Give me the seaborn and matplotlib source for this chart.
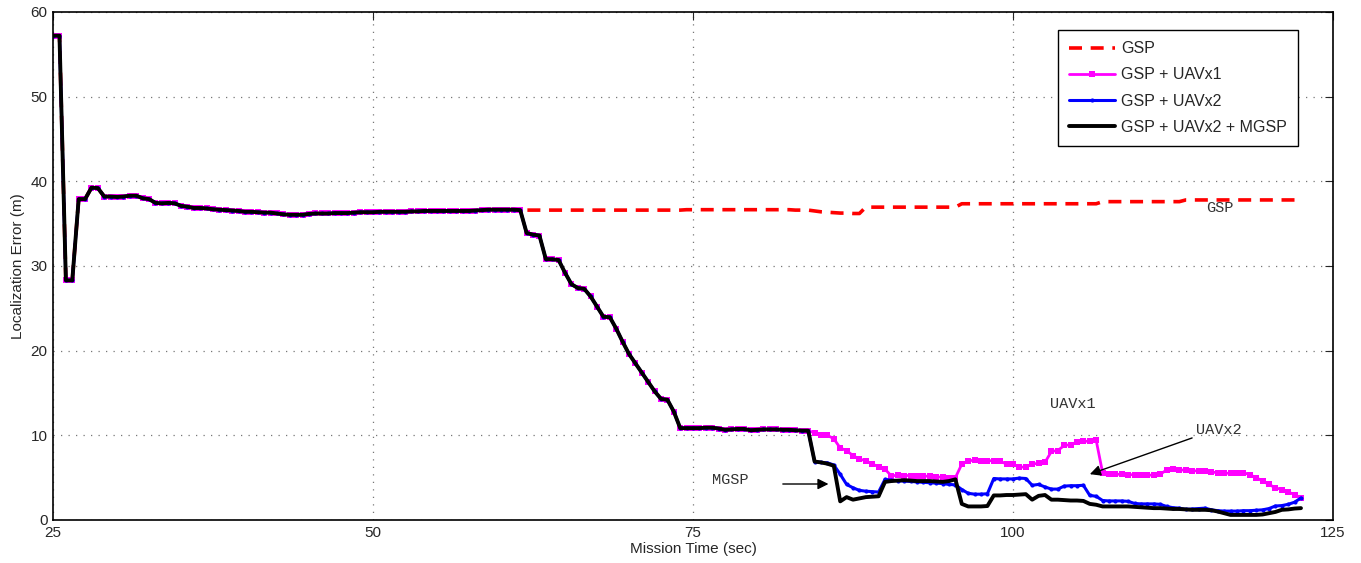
"""
Localization error vs mission time: GSP, GSP + UAVs and GSP + UAVs + MGSP
"""

import numpy as np
import pandas as pd
import matplotlib
matplotlib.use('Agg')
import matplotlib.pyplot as plt
import seaborn as sns

sns.set_style('white')
plt.rcParams['font.family'] = ['Liberation Sans Narrow', 'Liberation Sans', 'DejaVu Sans']

# ============================================================
# DATA (sampled every 0.5 s from 25.0 s to 122.5 s)
# ============================================================
t_start, t_end, t_step = 25.0, 122.5, 0.5

# 25.0 .. 61.5 s, shared by every configuration
common = [
    57.2, 57.2, 28.3, 28.3, 37.9, 37.9, 39.25, 39.2, 38.2, 38.2,
    38.15, 38.2, 38.3, 38.3, 38.0, 37.9, 37.45, 37.4, 37.45, 37.4,
    37.1, 37.0, 36.85, 36.85, 36.8, 36.7, 36.65, 36.6, 36.55, 36.5,
    36.4, 36.4, 36.35, 36.3, 36.3, 36.2, 36.1, 36.05, 36.05, 36.05,
    36.15, 36.2, 36.2, 36.2, 36.25, 36.25, 36.25, 36.3, 36.35, 36.35,
    36.35, 36.4, 36.4, 36.4, 36.4, 36.4, 36.45, 36.45, 36.5, 36.5,
    36.5, 36.5, 36.5, 36.5, 36.5, 36.5, 36.55, 36.6, 36.65, 36.65,
    36.65, 36.65, 36.65, 36.6,
]

# 62.0 .. 122.5 s, ground sensors only
gsp_tail = [
    36.6, 36.6, 36.6, 36.6, 36.6, 36.6, 36.6, 36.6, 36.6, 36.6,
    36.6, 36.6, 36.6, 36.6, 36.6, 36.6, 36.6, 36.6, 36.6, 36.6,
    36.6, 36.6, 36.6, 36.6, 36.6, 36.65, 36.65, 36.65, 36.65, 36.65,
    36.65, 36.65, 36.65, 36.65, 36.65, 36.65, 36.65, 36.65, 36.65, 36.65,
    36.65, 36.65, 36.6, 36.6, 36.6,
    36.5, 36.4, 36.35, 36.3, 36.25, 36.25, 36.2, 36.2,
    36.95, 36.95, 36.95, 36.95, 36.95, 36.95, 36.95, 36.95, 36.95, 36.95,
    36.95, 36.95, 36.95, 36.95, 36.95,
    37.35, 37.35, 37.35, 37.35, 37.35, 37.35, 37.35, 37.35, 37.35, 37.35,
    37.35, 37.35, 37.35, 37.35, 37.35, 37.35, 37.35, 37.35, 37.35, 37.35,
    37.35, 37.35,
    37.6, 37.6, 37.6, 37.6, 37.6, 37.6, 37.6, 37.6, 37.6, 37.6,
    37.6, 37.6, 37.6,
    37.8, 37.8, 37.8, 37.8, 37.8, 37.8, 37.8, 37.8, 37.8, 37.8,
    37.8, 37.8, 37.8, 37.8, 37.8, 37.8, 37.8, 37.8, 37.8,
]

# 62.0 .. 84.0 s, shared by the UAV configurations
uav_drop = [
    33.9, 33.7, 33.6, 30.8, 30.8, 30.7, 29.2, 27.85, 27.4, 27.3,
    26.4, 25.2, 24.0, 23.95, 22.6, 21.05, 19.6, 18.5, 17.4, 16.3,
    15.2, 14.3, 14.2, 12.8, 10.85, 10.85, 10.85, 10.85, 10.9, 10.9,
    10.8, 10.65, 10.7, 10.75, 10.75, 10.6, 10.65, 10.7, 10.7, 10.7,
    10.65, 10.65, 10.6, 10.55, 10.55,
]

# 84.5 .. 122.5 s
uavx1_tail = [
    10.3, 10.0, 10.0, 9.6, 8.5, 8.2, 7.6, 7.2, 7.0, 6.6,
    6.3, 6.0, 5.2, 5.3, 5.25, 5.25, 5.2, 5.2, 5.15, 5.1,
    5.05, 5.0, 5.0, 6.6, 7.0, 7.05, 7.0, 7.0, 7.0, 6.95,
    6.6, 6.6, 6.25, 6.25, 6.6, 6.7, 6.8, 8.1, 8.2, 8.8,
    8.9, 9.2, 9.3, 9.3, 9.4, 5.6, 5.4, 5.4, 5.4, 5.35,
    5.35, 5.35, 5.3, 5.3, 5.4, 5.9, 6.0, 5.95, 5.85, 5.8,
    5.8, 5.75, 5.65, 5.6, 5.55, 5.5, 5.6, 5.6, 5.35, 5.0,
    4.6, 4.2, 3.8, 3.6, 3.3, 3.0, 2.6,
]

uavx2_tail = [
    6.9, 6.8, 6.75, 6.5, 5.4, 4.2, 3.8, 3.5, 3.4, 3.35,
    3.3, 4.8, 4.7, 4.65, 4.6, 4.55, 4.5, 4.45, 4.4, 4.35,
    4.3, 4.2, 4.15, 3.6, 3.15, 3.05, 3.05, 3.1, 4.9, 4.85,
    4.85, 4.85, 4.95, 4.9, 4.1, 4.2, 3.9, 3.65, 3.65, 4.0,
    4.05, 4.05, 4.1, 2.9, 2.8, 2.3, 2.25, 2.25, 2.25, 2.2,
    1.95, 1.9, 1.9, 1.9, 1.85, 1.6, 1.45, 1.4, 1.25, 1.3,
    1.35, 1.4, 1.2, 1.1, 1.05, 1.05, 1.05, 1.1, 1.1, 1.15,
    1.2, 1.35, 1.65, 1.7, 1.85, 2.1, 2.6,
]

mgsp_tail = [
    6.9, 6.8, 6.65, 6.4, 2.2, 2.7, 2.4, 2.55, 2.7, 2.75,
    2.8, 4.5, 4.6, 4.65, 4.7, 4.65, 4.6, 4.6, 4.6, 4.55,
    4.5, 4.6, 4.8, 1.9, 1.6, 1.6, 1.6, 1.65, 2.9, 2.9,
    2.95, 2.95, 3.0, 3.05, 2.4, 2.85, 2.95, 2.4, 2.4, 2.35,
    2.3, 2.3, 2.25, 1.9, 1.8, 1.6, 1.6, 1.6, 1.6, 1.6,
    1.55, 1.5, 1.45, 1.4, 1.4, 1.35, 1.3, 1.3, 1.25, 1.2,
    1.2, 1.2, 1.15, 1.0, 0.8, 0.6, 0.6, 0.6, 0.6, 0.6,
    0.65, 0.8, 0.95, 1.2, 1.25, 1.35, 1.4,
]

series_names = ['GSP', 'GSP + UAVx1', 'GSP + UAVx2', 'GSP + UAVx2 + MGSP']
series_colors = ['#ff0000', '#ff00ff', '#0000ff', '#000000']

mission_time = np.arange(t_start, t_end + t_step / 2, t_step)
df = pd.DataFrame({
    'time': mission_time,
    series_names[0]: common + gsp_tail,
    series_names[1]: common + uav_drop + uavx1_tail,
    series_names[2]: common + uav_drop + uavx2_tail,
    series_names[3]: common + uav_drop + mgsp_tail,
})

# ============================================================
# PLOT
# ============================================================
fig = plt.figure(figsize=(13.61, 5.63), dpi=100)
ax = fig.add_axes([0.039, 0.0764, 0.9404, 0.9023])

styles = [
    dict(linestyle=(0, (3.6, 2.4)), linewidth=2.6),
    dict(linewidth=2.0, marker='s', markersize=4.2, markeredgewidth=0),
    dict(linewidth=2.2, marker='o', markersize=3.0, markeredgewidth=0),
    dict(linewidth=2.8),
]
for name, color, st in zip(series_names, series_colors, styles):
    sns.lineplot(data=df, x='time', y=name, ax=ax, color=color, label=name,
                 estimator=None, sort=False, **st)

ax.set_xlim(25, 125)
ax.set_ylim(0, 60)
ax.set_xticks([25, 50, 75, 100, 125])
ax.set_yticks([0, 10, 20, 30, 40, 50, 60])
ax.grid(True, color='#777777', linestyle=(0, (1, 5)), linewidth=0.9)
ax.tick_params(direction='in', top=True, right=True, length=6, width=0.8,
               labelsize=11, pad=4)
for sp in ax.spines.values():
    sp.set_color('black')
    sp.set_linewidth(1.2)

ax.set_xlabel('Mission Time (sec)', fontsize=11, labelpad=2)
ax.set_ylabel('Localization Error (m)', fontsize=11, labelpad=4)

# annotations
mono = dict(family=['Liberation Mono', 'DejaVu Sans Mono'], fontsize=11, color='#333333')
ax.text(115.1, 36.9, 'GSP', va='center', ha='left', **mono)
ax.text(102.9, 13.7, 'UAVx1', va='center', ha='left', **mono)
ax.text(114.3, 10.6, 'UAVx2', va='center', ha='left', **mono)
ax.text(76.5, 4.75, 'MGSP', va='center', ha='left', **mono)
arrow = dict(arrowstyle='-|>', color='black', lw=1.0, mutation_scale=16)
ax.annotate('', xy=(105.8, 5.3), xytext=(114.2, 9.8), arrowprops=arrow)
ax.annotate('', xy=(85.8, 4.25), xytext=(81.8, 4.25), arrowprops=arrow)

leg = ax.legend(loc='upper right', bbox_to_anchor=(0.9727, 0.9646), borderaxespad=0,
                handlelength=2.9, handletextpad=0.35, labelspacing=0.7, borderpad=0.7,
                fancybox=False, framealpha=1, edgecolor='black',
                prop={'family': ['Liberation Sans', 'DejaVu Sans'], 'size': 11.5})
leg.get_frame().set_linewidth(1.0)

plt.savefig('out.png', dpi=100)
plt.close()
